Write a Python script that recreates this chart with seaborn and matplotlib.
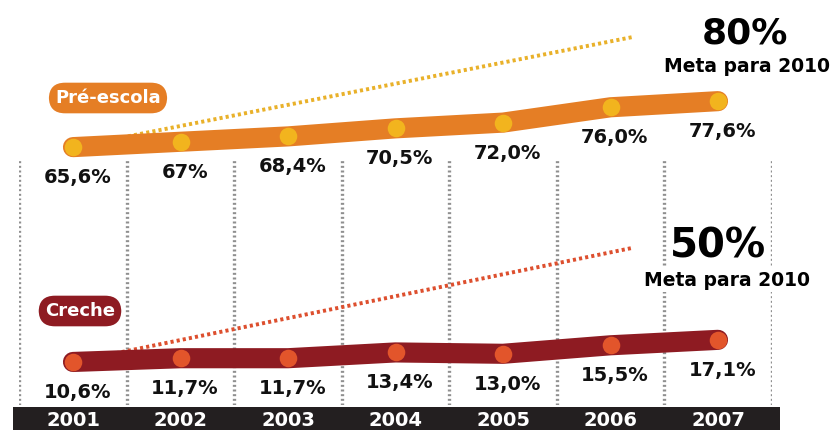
import numpy as np
import pandas as pd
import matplotlib.pyplot as plt
import seaborn as sns

sns.set_style('white')
plt.rcParams['font.family'] = ['DejaVu Sans']

# dados (taxa de atendimento, %)
anos = ['2001', '2002', '2003', '2004', '2005', '2006', '2007']
pre_escola = [65.6, 67.0, 68.4, 70.5, 72.0, 76.0, 77.6]
creche = [10.6, 11.7, 11.7, 13.4, 13.0, 15.5, 17.1]
pre_rotulos = ['65,6%', '67%', '68,4%', '70,5%', '72,0%', '76,0%', '77,6%']
creche_rotulos = ['10,6%', '11,7%', '11,7%', '13,4%', '13,0%', '15,5%', '17,1%']
# linha pontilhada da meta (estilizada, como no original)
meta_pre_x = [0, 5.2]
meta_pre_y = [65.6, 94.3]
meta_creche_x = [0, 5.2]
meta_creche_y = [10.6, 44.1]
meta_pre = '80%'
meta_creche = '50%'

LARANJA = '#E57E25'
AMARELO = '#F2B41E'
VINHO = '#8E1B22'
VERMELHO = '#E2552B'
GRADE = '#8f8f8f'

W, H = 840, 430
fig = plt.figure(figsize=(W / 100, H / 100), dpi=100)
fig.patch.set_facecolor('white')

x0, x1 = 19.25 / W, 752.5 / W
ax_top = fig.add_axes([x0, 230 / H, x1, 200 / H])
ax_bot = fig.add_axes([x0, 25 / H, x1, 205 / H])
ax_bar = fig.add_axes([13 / W, 0, 767 / W, 23 / H])

df_pre = pd.DataFrame({'x': range(len(anos)), 'v': pre_escola})
df_cre = pd.DataFrame({'x': range(len(anos)), 'v': creche})


def painel(ax, df, rotulos, cor, cor_ponto, meta_x, meta_y, cor_meta, ylim, grade_de):
    ax.set_xlim(-0.5, 6.5)
    ax.set_ylim(*ylim)
    ax.axis('off')
    ax.patch.set_alpha(0)
    # grade vertical pontilhada
    for g in np.arange(-0.5, 7.0, 1.0):
        ax.plot([g, g], [ylim[0], grade_de], color=GRADE, lw=2.4,
                ls=(0, (0.6, 0.8)), zorder=0)
    ax.plot(meta_x, meta_y, color=cor_meta, lw=2.8, ls=(0, (0.8, 0.8)), zorder=2)
    sns.lineplot(data=df, x='x', y='v', ax=ax, color=cor, lw=14.5,
                 solid_capstyle='round', solid_joinstyle='round', zorder=3)
    sns.scatterplot(data=df, x='x', y='v', ax=ax, color=cor_ponto, s=160,
                    marker='o', linewidth=0, zorder=4)
    for xi, yi, t in zip(df['x'], df['v'], rotulos):
        ax.annotate(t, (xi, yi), xytext=(3, -22), textcoords='offset points',
                    ha='center', va='center', fontsize=14, fontweight='bold',
                    color='#111111', zorder=6,
                    bbox=dict(boxstyle='square,pad=0.1', fc='white', ec='none'))


painel(ax_top, df_pre, pre_rotulos, LARANJA, AMARELO, meta_pre_x, meta_pre_y,
       '#E9B12A', (51.8, 104.0), 62.5)
painel(ax_bot, df_cre, creche_rotulos, VINHO, VERMELHO, meta_creche_x, meta_creche_y,
       '#DD4F2E', (-2.05, 58.2), 60.0)

# etiquetas das séries
fig.text(108 / W, 1 - 98 / H, 'Pré-escola', ha='center', va='center', color='white',
         fontsize=13, fontweight='bold',
         bbox=dict(boxstyle='round,pad=0.35,rounding_size=0.9', fc=LARANJA, ec='none'))
fig.text(80 / W, 1 - 311 / H, 'Creche', ha='center', va='center', color='white',
         fontsize=13, fontweight='bold',
         bbox=dict(boxstyle='round,pad=0.35,rounding_size=0.9', fc=VINHO, ec='none'))

# metas
fig.text(745 / W, 1 - 34 / H, meta_pre, ha='center', va='center', fontsize=26,
         fontweight='bold', color='black')
fig.text(747 / W, 1 - 66 / H, 'Meta para 2010', ha='center', va='center', fontsize=13.5,
         fontweight='bold', color='black')
fig.text(718 / W, 1 - 247 / H, meta_creche, ha='center', va='center', fontsize=29,
         fontweight='bold', color='black',
         bbox=dict(boxstyle='square,pad=0.05', fc='white', ec='none'))
fig.text(727 / W, 1 - 280 / H, 'Meta para 2010', ha='center', va='center', fontsize=13.5,
         fontweight='bold', color='black',
         bbox=dict(boxstyle='square,pad=0.15', fc='white', ec='none'))

# faixa preta com os anos
ax_bar.set_facecolor('#231F20')
ax_bar.set_xlim(-(73 - 13) / 107.5, (780 - 73) / 107.5)
ax_bar.set_ylim(0, 1)
ax_bar.set_xticks([])
ax_bar.set_yticks([])
for s in ax_bar.spines.values():
    s.set_visible(False)
for i, a in enumerate(anos):
    ax_bar.text(i, 0.42, a, ha='center', va='center', color='white',
                fontsize=14, fontweight='bold')

fig.savefig('out.png', dpi=100)
